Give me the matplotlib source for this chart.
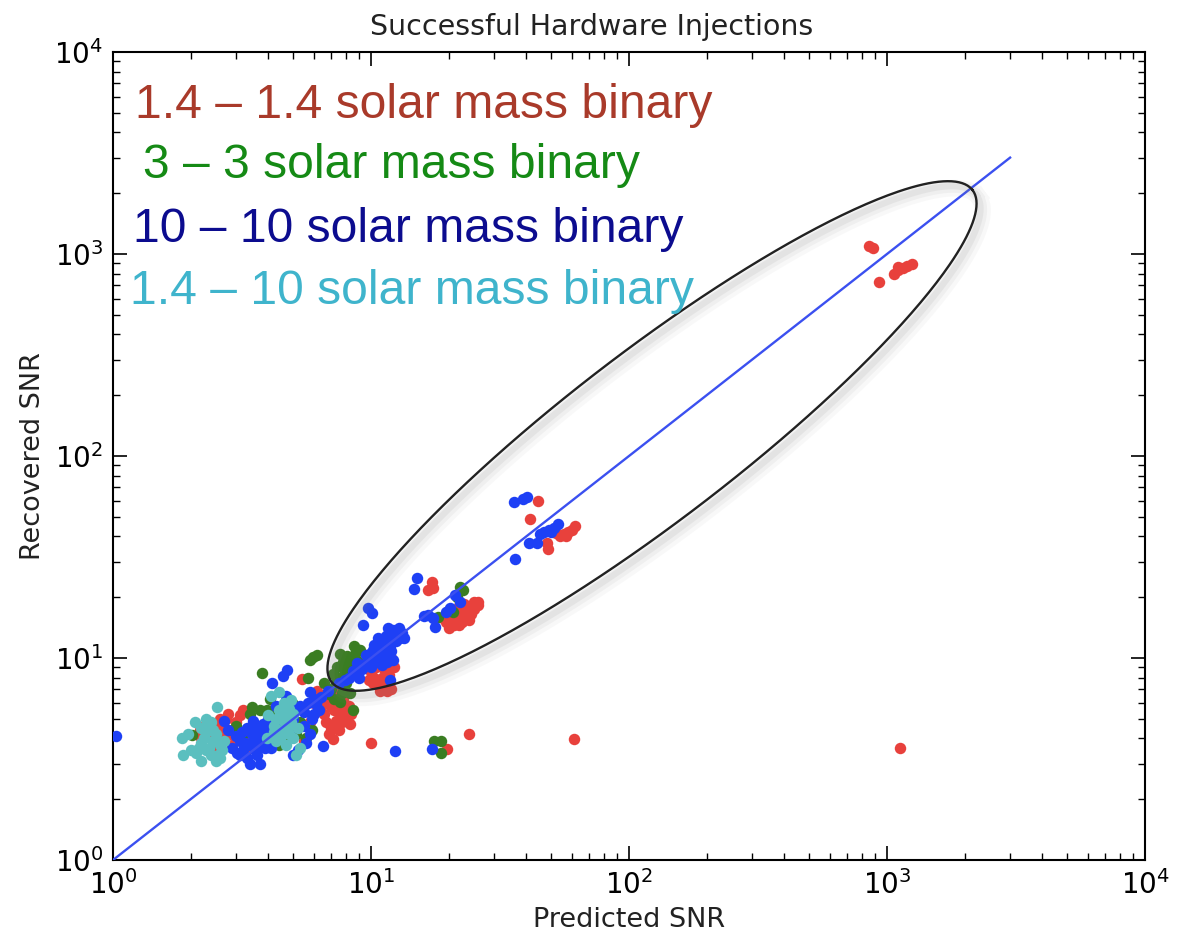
import numpy as np
import matplotlib
matplotlib.use("Agg")
import matplotlib.pyplot as plt
from matplotlib.lines import Line2D

# ---------------- data (SNR values) ----------------
red_x = [2.17, 2.3, 2.6, 2.7, 2.8, 2.9, 3.0, 3.2, 3.5, 2.75, 3.1, 2.45, 2.55,
         2.4, 2.6, 3.3, 2.85, 3.4, 2.2, 2.5,
         4.2, 4.6, 5.0, 5.5, 4.0, 5.8,
         6.3, 6.8, 7.2, 7.5, 7.8, 8.0, 8.3, 7.0, 6.6, 7.4, 8.2, 6.9, 7.7, 6.9, 7.1, 6.4, 7.9, 7.3, 6.2, 5.4,
         6.5, 7.0, 7.6, 8.1, 7.3, 6.7, 7.9, 8.4, 6.0, 7.5, 6.8,
         9.5, 10.0, 10.5, 11.0, 11.5, 12.0, 10.2, 11.0, 12.0, 11.5, 10.5, 11.3, 10.8, 9.8,
         10.3, 11.7, 12.3, 10.8, 11.2,
         17.2, 17.4, 16.6, 19.5, 20.0, 21.0, 22.0, 23.0, 24.0, 25.0, 22.0, 21.0, 23.5, 20.0, 22.0, 25.0, 24.0, 26.0, 19.0,
         20.5, 22.5, 23.0, 24.5, 21.5, 26.0, 19.8,
         44.4, 41.3, 54, 56, 58, 60, 62, 57, 48, 48.5, 52,
         850, 880, 932, 1060, 1100, 1150, 1200, 1250, 1100,
         10.0, 19.7, 24.0, 61.2, 1125]
red_y = [4.4, 4.7, 4.5, 4.0, 5.3, 3.7, 4.8, 5.5, 4.3, 5.0, 5.2, 4.0, 3.5,
         4.3, 5.0, 4.0, 4.2, 3.6, 4.0, 4.6,
         5.6, 5.0, 4.5, 3.9, 4.2, 4.8,
         6.5, 6.0, 5.5, 5.0, 6.2, 5.2, 4.7, 4.5, 5.3, 6.7, 5.8, 7.0, 4.8, 4.2, 3.95, 5.8, 5.6, 4.9, 6.9, 7.9,
         6.2, 5.8, 5.4, 4.9, 6.0, 4.8, 6.6, 5.3, 6.0, 4.4, 6.4,
         9.5, 8.5, 9.0, 8.0, 9.5, 10.0, 7.5, 7.2, 7.0, 6.9, 10.5, 8.6, 6.9, 7.8,
         8.0, 8.2, 9.0, 9.8, 7.6,
         23.8, 22.2, 21.7, 15.0, 16.5, 14.5, 16.0, 17.0, 18.0, 19.0, 18.0, 15.5, 16.0, 14.0, 14.5, 17.5, 15.5, 19.0, 15.8,
         15.2, 15.0, 18.5, 16.5, 17.0, 18.2, 17.0,
         59.9, 48.8, 40, 41, 42, 43, 45, 40, 37, 34.5, 41.5,
         1090, 1070, 727, 800, 830, 850, 870, 890, 860,
         3.8, 3.55, 4.2, 3.97, 3.6]

green_x = [2.02, 2.9, 3.7, 3.45, 3.95, 3.4, 3.78, 4.2, 4.5, 4.8, 5.0, 4.4, 5.1, 5.6, 5.7,
           3.0, 4.0, 4.6, 5.3, 5.9, 3.2, 4.1,
           5.96, 6.2, 5.8, 6.6, 7.7, 7.6, 8.5, 4.06,
           7.0, 7.5, 8.0, 8.5, 9.0, 8.0, 7.2, 8.8, 7.8, 8.3, 9.0, 7.6, 8.6, 9.1,
           7.3, 7.9, 8.4, 8.7, 7.4, 8.1, 8.9, 6.9, 7.1, 8.2, 7.8,
           22.1, 22.7, 20.8, 18.2, 21.5,
           17.5, 18.7, 18.7]
green_y = [4.16, 4.4, 5.5, 5.7, 5.5, 5.3, 8.43, 5.4, 5.3, 5.7, 5.9, 3.7, 4.2, 4.0, 8.0,
           4.6, 5.2, 4.1, 4.8, 4.4, 4.2, 3.8,
           10.1, 10.3, 9.8, 7.5, 6.7, 6.06, 5.5, 6.3,
           7.0, 8.0, 9.0, 10.0, 11.0, 7.5, 6.3, 8.5, 9.5, 6.7, 9.5, 10.5, 11.5, 11.0,
           7.5, 8.5, 9.3, 10.5, 9.0, 10.2, 9.0, 6.6, 8.3, 8.2, 7.2,
           22.5, 21.7, 16.9, 15.9, 20.0,
           3.9, 3.9, 3.39]

blue_x = [1.03,
          3.0, 3.3, 3.5, 3.2, 3.6, 3.8, 3.4, 3.1, 3.03, 2.8, 3.7, 3.9, 3.5, 3.3, 2.9, 3.7, 4.0, 2.7, 3.6,
          3.15, 3.45, 3.75, 3.25, 3.55, 3.85, 3.95, 3.4, 3.6, 4.05, 3.1,
          4.2, 4.5, 4.9, 5.3, 5.7, 6.0, 4.4, 4.8, 5.5, 5.9, 4.1, 5.2, 6.3, 4.3, 4.7, 5.0, 4.14, 4.56, 4.73,
          6.5, 5.8, 6.2, 4.0, 5.6,
          5.1, 5.5, 6.1, 6.4, 4.6, 5.8, 6.0, 5.0,
          6.8, 7.5, 7.9, 8.5, 9.3, 10.0, 10.5, 9.7, 10.1, 9.3, 11.6, 10.2, 10.8, 11.2, 11.6, 12.0, 12.4,
          12.8, 11.0, 11.8, 12.5, 10.5, 11.0, 11.4, 12.0, 10.0, 9.6, 13.0, 12.2, 11.8, 10.6, 9.0, 8.2,
          10.4, 10.9, 11.3, 11.7, 12.1, 12.6, 13.2, 10.0, 10.6, 11.4, 12.2, 12.9, 13.4, 11.1, 10.3, 9.8,
          9.2, 8.8, 11.5,
          15.1, 14.7, 21.2, 22.1, 20.2, 19.6, 17.4, 16.6, 17.7, 16.0,
          35.8, 38.8, 40.2, 45, 47, 49, 51, 53, 50, 41, 44, 36.1,
          12.4, 17.2]
blue_y = [4.1,
          4.1, 4.5, 3.9, 3.5, 3.3, 4.7, 3.7, 3.9, 3.38, 4.4, 4.0, 3.6, 4.9, 3.2, 3.6, 3.0, 4.3, 4.9, 4.4,
          4.3, 4.2, 4.4, 3.8, 3.5, 3.9, 4.7, 3.0, 3.7, 3.9, 3.3,
          4.8, 5.2, 5.6, 5.8, 6.0, 6.3, 4.0, 4.3, 4.6, 5.0, 3.6, 3.5, 5.5, 5.8, 6.5, 3.3, 7.53, 8.16, 8.7,
          3.67, 6.8, 6.2, 5.0, 3.8,
          5.6, 5.4, 5.9, 6.4, 4.7, 4.2, 5.3, 5.0,
          6.9, 7.5, 7.8, 8.6, 9.2, 10.0, 10.8, 17.7, 16.7, 14.5, 14.1, 11.0, 11.5, 12.0, 12.5, 13.0, 13.5,
          14.0, 10.5, 11.5, 12.2, 9.5, 9.2, 10.4, 10.8, 9.0, 10.3, 12.5, 9.8, 7.8, 12.6, 8.0, 8.0,
          10.0, 10.9, 11.3, 11.9, 12.2, 12.9, 13.3, 10.6, 11.2, 12.8, 13.8, 13.2, 12.6, 12.2, 11.6, 9.6,
          8.8, 9.4, 9.6,
          24.9, 22.0, 20.5, 18.9, 17.7, 16.9, 15.7, 16.3, 14.2, 16.2,
          59.2, 61.3, 62.6, 41, 42, 43, 44, 46, 42, 37, 37, 30.9,
          3.46, 3.55]

cyan_x = [1.85, 1.87, 2.08, 2.53, 2.0, 2.2, 2.3, 2.4, 2.5, 2.6, 2.1, 2.35, 2.45, 2.55, 2.25, 2.4,
          1.95, 2.7, 2.3, 2.2, 2.6,
          2.15, 2.3, 2.45, 2.35, 2.55, 2.2, 2.65, 2.5,
          4.0, 4.2, 4.4, 4.6, 4.8, 5.0, 4.3, 4.7, 5.2, 4.5, 4.9, 4.1, 5.3, 4.4, 3.95, 4.65, 5.1,
          4.3, 4.55, 4.75, 4.9, 4.2, 4.45, 5.0, 4.6, 4.8]
cyan_y = [4.02, 3.31, 4.82, 5.7, 3.5, 3.8, 4.3, 4.8, 4.2, 3.7, 3.4, 3.6, 3.9, 3.3, 4.0, 3.3,
          4.2, 3.9, 5.0, 3.1, 3.2,
          3.6, 3.5, 4.4, 4.6, 3.9, 4.5, 3.5, 3.1,
          5.2, 4.6, 5.5, 4.9, 4.2, 5.3, 3.9, 3.7, 4.5, 4.4, 6.2, 6.5, 3.6, 6.8, 4.0, 5.8, 3.3,
          5.0, 5.1, 4.5, 4.8, 4.3, 4.0, 4.0, 6.0, 5.6]

line_ends = [1, 3000]

legend_labels = ["1.4 \u2013 1.4 solar mass binary",
                 "3 \u2013 3 solar mass binary",
                 "10 \u2013 10 solar mass binary",
                 "1.4 \u2013 10 solar mass binary"]

# ---------------- figure ----------------
W, H = 1178, 946
fig = plt.figure(figsize=(W / 100, H / 100), dpi=100)
ax = fig.add_axes([113 / W, 1 - 860 / H, (1145 - 113) / W, (860 - 52) / H])

ax.set_xscale("log")
ax.set_yscale("log")
ax.set_xlim(1, 1e4)
ax.set_ylim(1, 1e4)

ms = 68
ax.scatter(red_x, red_y, s=ms, c="#e8413c", linewidths=0, zorder=3)
ax.scatter(green_x, green_y, s=ms, c="#3a7d22", linewidths=0, zorder=3)
ax.scatter(blue_x, blue_y, s=ms, c="#1e40f5", linewidths=0, zorder=3)
ax.scatter(cyan_x, cyan_y, s=ms, c="#5bbfbf", linewidths=0, zorder=3)
ax.plot(line_ends, line_ends, color="#3b50f0", lw=1.7, zorder=4)

ax.set_title("Successful Hardware Injections", fontsize=20.5, pad=12, color="#222222",
             x=(592 - 113) / 1032)
ax.set_xlabel("Predicted SNR", fontsize=19.5, labelpad=5, color="#222222")
ax.set_ylabel("Recovered SNR", fontsize=19.5, labelpad=6, color="#222222")

ax.tick_params(which="both", direction="in", top=True, right=True)
ax.tick_params(which="major", length=10, width=1.2, labelsize=20, pad=7)
ax.tick_params(which="minor", length=5, width=1.0)
for s in ax.spines.values():
    s.set_linewidth(1.5)

# ---------------- ellipse annotation (figure pixel space) ----------------
cx, cy = 652, 436
a, b = 404, 84
ang = np.deg2rad(37.5)
t = np.linspace(0, 2 * np.pi, 400)
ux, uy = np.cos(ang), -np.sin(ang)
vx, vy = np.sin(ang), np.cos(ang)
px = cx + a * np.cos(t) * ux + b * np.sin(t) * vx
py = cy + a * np.cos(t) * uy + b * np.sin(t) * vy
for off, lw, al in [(6, 12, 0.05), (5, 8, 0.07), (4, 4.5, 0.10)]:
    fig.add_artist(Line2D((px + off) / W, 1 - (py + off + 1) / H, color="gray",
                          lw=lw, alpha=al, transform=fig.transFigure, zorder=5))
fig.add_artist(Line2D(px / W, 1 - py / H, color="#222222", lw=1.7,
                      transform=fig.transFigure, zorder=6))

# ---------------- coloured labels ----------------
label_colors = ["#a93a2a", "#158a15", "#0c0c8f", "#3fb4cc"]
label_pos = [(135, 118), (143, 178), (133, 242), (130, 304)]
for txt, col, (lx, ly) in zip(legend_labels, label_colors, label_pos):
    fig.text(lx / W, 1 - ly / H, txt, color=col, fontsize=34.6,
             family="Liberation Sans", va="baseline", ha="left", zorder=7)

fig.savefig("out.png", dpi=100)
